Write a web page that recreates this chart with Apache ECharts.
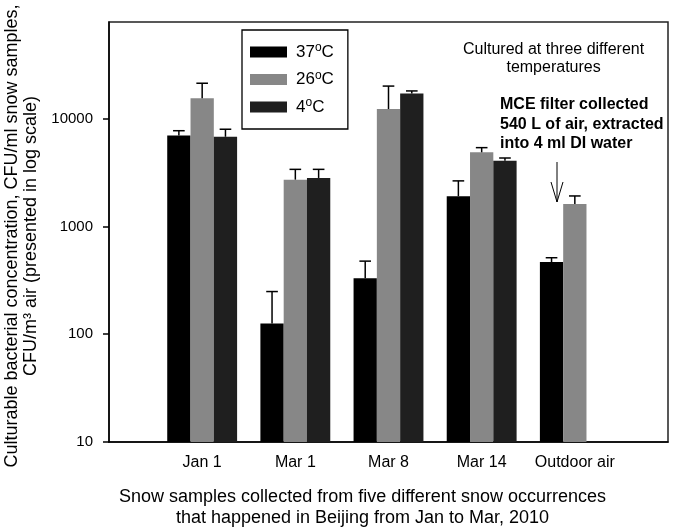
<!DOCTYPE html>
<html>
<head>
<meta charset="utf-8">
<script src="https://cdn.jsdelivr.net/npm/echarts@6/dist/echarts.min.js"></script>
<style>html,body{margin:0;padding:0;background:#fff}#c{width:675px;height:528px}</style>
</head>
<body>
<div id="c"></div>
<script>
const categories = ['Jan 1', 'Mar 1', 'Mar 8', 'Mar 14', 'Outdoor air'];
const seriesNames = ['37°C', '26°C', '4°C'];
const values37 = [7000, 126, 330, 1910, 467];
const values26 = [15500, 2720, 12300, 4880, 1620];
const values4 = [6800, 2820, 17100, 4080, null];
const err37 = [740, 123, 147, 740, 46];
const err26 = [5850, 670, 7790, 510, 300];
const err4 = [1190, 570, 1010, 240, null];
const yTicks = [10, 100, 1000, 10000];
const colors = ['#000000', '#878787', '#1f1f1f'];

const allValues = [values37, values26, values4];
const allErrs = [err37, err26, err4];
const FONT = 'Liberation Sans, Arial, sans-serif';

const chart = echarts.init(document.getElementById('c'));

const barSeries = allValues.map((vals, k) => ({
  name: seriesNames[k],
  type: 'bar',
  barWidth: '25%',
  barGap: '0%',
  itemStyle: { color: colors[k] },
  data: vals.map((v, i) => v == null ? null : [i + 1, v]).filter(d => d)
}));

const errData = [];
allValues.forEach((vals, k) => {
  vals.forEach((v, i) => {
    if (v != null && allErrs[k][i] != null) errData.push([i + 1, v, v + allErrs[k][i], k]);
  });
});

const errSeries = {
  type: 'custom',
  name: 'err',
  z: 5,
  encode: { x: 0, y: [1, 2] },
  data: errData,
  renderItem: function (params, api) {
    const x = api.value(0), v = api.value(1), up = api.value(2), k = api.value(3);
    const p0 = api.coord([x, v]);
    const p1 = api.coord([x, up]);
    const band = api.coord([x + 1, v])[0] - p0[0];
    const bw = band * 0.25;
    const cx = p0[0] + (k - 1) * bw;
    const half = bw * 0.25;
    const st = { stroke: '#000', lineWidth: 1.5 };
    return {
      type: 'group',
      children: [
        { type: 'line', shape: { x1: cx, y1: p0[1], x2: cx, y2: p1[1] }, style: st },
        { type: 'line', shape: { x1: cx - half, y1: p1[1], x2: cx + half, y2: p1[1] }, style: st }
      ]
    };
  }
};

const option = {
  backgroundColor: '#fff',
  animation: false,
  textStyle: { fontFamily: FONT, color: '#000' },
  grid: {
    left: 109, right: 7, top: 22, bottom: 86,
    outerBoundsMode: 'none', containLabel: false,
    show: true, borderColor: '#222', borderWidth: 1.5, backgroundColor: 'transparent'
  },
  legend: {
    data: seriesNames,
    orient: 'vertical',
    left: 242,
    top: 30,
    itemWidth: 37,
    itemHeight: 11,
    itemGap: 7.5,
    padding: [12, 14, 12, 8],
    borderColor: '#000',
    borderWidth: 1.3,
    icon: 'rect',
    formatter: function (name) {
      const parts = name.split('°');
      return '{n|' + parts[0] + '}{sup|o}{n|' + parts[1] + '}';
    },
    textStyle: {
      padding: [0, 0, 0, 4],
      rich: {
        n: { fontSize: 17, fontFamily: FONT, color: '#000', lineHeight: 20 },
        sup: { fontSize: 12, fontFamily: FONT, color: '#000', padding: [0, 0, 8, 0], lineHeight: 12 }
      }
    }
  },
  xAxis: {
    type: 'value',
    min: 0,
    max: 6,
    interval: 1,
    axisLine: { show: true, lineStyle: { color: '#000', width: 1.5 } },
    axisTick: { show: false },
    splitLine: { show: false },
    axisLabel: {
      fontSize: 16, color: '#000', fontFamily: FONT, margin: 13,
      formatter: function (v) { return categories[v - 1] || ''; }
    },
    name: 'Snow samples collected from five different snow occurrences\nthat happened in Beijing from Jan to Mar, 2010',
    nameLocation: 'middle',
    nameGap: 45,
    nameTextStyle: { fontSize: 18, lineHeight: 21, color: '#000', fontFamily: FONT, padding: [0, 52, 0, 0] }
  },
  yAxis: {
    type: 'log',
    logBase: 10,
    min: 10,
    max: 79000,
    axisLine: { show: true, lineStyle: { color: '#000', width: 1.5 } },
    axisTick: { show: true, length: 6, customValues: yTicks, lineStyle: { color: '#000', width: 1.5 } },
    splitLine: { show: false },
    axisLabel: {
      customValues: yTicks, fontSize: 15, color: '#000', fontFamily: FONT, margin: 16,
      formatter: function (v) { return String(Math.round(v)); }
    },
    name: 'Culturable bacterial concentration, CFU/ml snow samples,\nCFU/m³ air (presented in log scale)',
    nameLocation: 'middle',
    nameGap: 67,
    nameTextStyle: { fontSize: 18, lineHeight: 19, color: '#000', fontFamily: FONT, padding: [0, 8, 0, 0] }
  },
  graphic: [
    {
      type: 'text', left: 463, top: 41,
      style: { text: 'Cultured at three different\ntemperatures', font: '16px ' + FONT, fill: '#000', textAlign: 'center', lineHeight: 18 }
    },
    {
      type: 'text', left: 500, top: 95,
      style: { text: 'MCE filter collected\n540 L of air, extracted\ninto 4 ml DI water', font: 'bold 16px ' + FONT, fill: '#000', lineHeight: 19.5 }
    },
    {
      type: 'group',
      children: [
        { type: 'line', shape: { x1: 557, y1: 162, x2: 557, y2: 202 }, style: { stroke: '#000', lineWidth: 1 } },
        { type: 'polyline', shape: { points: [[551, 182], [557, 202], [563, 182]] }, style: { stroke: '#000', fill: 'none', lineWidth: 1 } }
      ]
    }
  ],
  series: barSeries.concat([errSeries])
};

chart.setOption(option);
</script>
</body>
</html>
